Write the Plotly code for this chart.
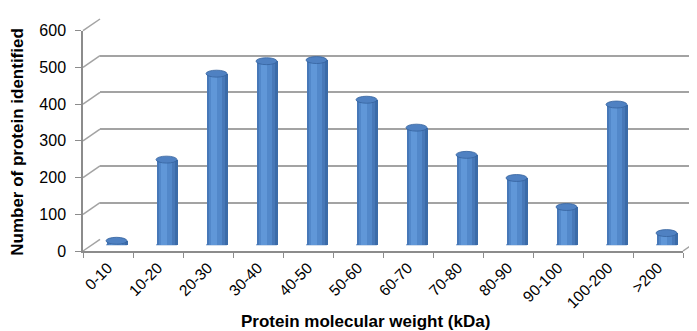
import plotly.graph_objects as go

categories = ["0-10", "10-20", "20-30", "30-40", "40-50", "50-60", "60-70",
              "70-80", "80-90", "90-100", "100-200", ">200"]
counts = [12, 233, 467, 501, 504, 396, 320, 246, 183, 104, 383, 33]
y_ticks = [0, 100, 200, 300, 400, 500, 600]
x_title = "Protein molecular weight (kDa)"
y_title = "Number of protein identified"

W, H = 697, 331
ML, MR, MT, MB = 75, 5, 3, 88
PW = W - ML - MR   # 617
PH = H - MT - MB   # 240
FRONT_W = 600      # px width of front plot
FRONT_H = 228      # px height of front plot
DX, DY = 17, 12    # depth offset (px)

def px_x(p):
    return p / PW

def px_y(p):
    return p / PH

FONT = "Liberation Sans, Arial, sans-serif"
GRID = "#A3A3A3"
AXC = "#8C8C8C"

fig = go.Figure()

# invisible trace to build the front category axis
fig.add_trace(go.Scatter(x=categories, y=counts, mode="markers",
                         marker=dict(opacity=0), hoverinfo="skip",
                         showlegend=False, xaxis="x", yaxis="y"))

# back wall gridlines holder
fig.add_trace(go.Scatter(x=[0], y=[None], mode="markers", showlegend=False,
                         hoverinfo="skip", xaxis="x2", yaxis="y2"))

idx = list(range(len(categories)))
half = 0.21
layers = [
    (0.42, -0.21, "#3B6BA8"),
    (0.36, -0.195, "#4778B8"),
    (0.26, -0.16, "#5288CA"),
    (0.12, -0.115, "#6097D8"),
]
for w, off, col in layers:
    fig.add_trace(go.Bar(x=idx, y=counts, width=w, offset=off,
                         marker=dict(color=col, line=dict(width=0)),
                         showlegend=False, hoverinfo="skip",
                         xaxis="x3", yaxis="y3"))

shapes = []
E = 3.6 / (FRONT_H / 600.0)  # half ellipse height in data units
for i, v in zip(idx, counts):
    # bottom rounded cap (behind the bar body)
    shapes.append(dict(type="circle", xref="x3", yref="y3",
                       x0=i - half, x1=i + half, y0=-E, y1=E,
                       fillcolor="#4A7BBB", line=dict(width=0), layer="below"))
    # top ellipse
    shapes.append(dict(type="circle", xref="x3", yref="y3",
                       x0=i - half, x1=i + half, y0=v - E, y1=v + E,
                       fillcolor="#4F81C2", line=dict(color="#36639E", width=0.8),
                       layer="above"))

# depth diagonals at each y tick (left wall edges)
for t in y_ticks:
    yf = px_y(FRONT_H * t / 600.0)
    shapes.append(dict(type="line", xref="paper", yref="paper",
                       x0=0, y0=yf, x1=px_x(DX), y1=yf + px_y(DY),
                       line=dict(color=GRID, width=1.5), layer="below"))
# right floor diagonal
shapes.append(dict(type="line", xref="paper", yref="paper",
                   x0=px_x(FRONT_W), y0=0, x1=px_x(FRONT_W + DX), y1=px_y(DY),
                   line=dict(color=GRID, width=1.5), layer="below"))

annotations = [
    dict(text="<b>" + y_title + "</b>", xref="paper", yref="paper",
         x=px_x(10 - ML), y=px_y(243 - 130), textangle=-90,
         showarrow=False, xanchor="center", yanchor="middle",
         font=dict(family=FONT, size=17, color="#000000")),
    dict(text="<b>" + x_title + "</b>", xref="paper", yref="paper",
         x=px_x(357 - ML), y=px_y(243 - 316), showarrow=False,
         xanchor="center", yanchor="middle",
         font=dict(family=FONT, size=17, color="#000000")),
]

fig.update_layout(
    width=W, height=H,
    margin=dict(l=ML, r=MR, t=MT, b=MB),
    paper_bgcolor="white", plot_bgcolor="rgba(0,0,0,0)",
    barmode="overlay", bargap=0,
    font=dict(family=FONT, size=15, color="#000000"),
    xaxis=dict(domain=[0, px_x(FRONT_W)], type="category",
               categoryorder="array", categoryarray=categories,
               range=[-0.5, len(categories) - 0.5],
               showgrid=False, zeroline=False, showline=True,
               linecolor=AXC, linewidth=1.5, ticks="outside",
               tickson="boundaries", ticklen=5, tickcolor=AXC,
               tickangle=-45, tickfont=dict(family=FONT, size=15.5),
               anchor="y", fixedrange=True),
    yaxis=dict(domain=[0, px_y(FRONT_H)], range=[0, 600],
               tickvals=y_ticks, showgrid=False, zeroline=False,
               showline=True, linecolor=AXC, linewidth=1.5,
               ticks="outside", ticklen=6, tickcolor=AXC,
               ticklabelstandoff=6,
               tickfont=dict(family=FONT, size=16), anchor="x",
               fixedrange=True),
    xaxis2=dict(domain=[px_x(DX), px_x(FRONT_W + DX)], range=[-0.5, 11.5],
                visible=False, anchor="y2", fixedrange=True),
    yaxis2=dict(domain=[px_y(DY), px_y(FRONT_H + DY)], range=[0, 600],
                tickvals=y_ticks, showgrid=True, gridcolor=GRID, gridwidth=1.5,
                zeroline=False, showticklabels=False, ticks="",
                showline=False, anchor="x2", fixedrange=True),
    xaxis3=dict(domain=[px_x(DX / 2), px_x(FRONT_W + DX / 2)],
                range=[-0.5, 11.5], visible=False, anchor="y3",
                fixedrange=True),
    yaxis3=dict(domain=[px_y(DY / 2), px_y(FRONT_H + DY / 2)], range=[0, 600],
                visible=False, anchor="x3", fixedrange=True),
    shapes=shapes,
    annotations=annotations,
)

fig.write_html("out.html")
